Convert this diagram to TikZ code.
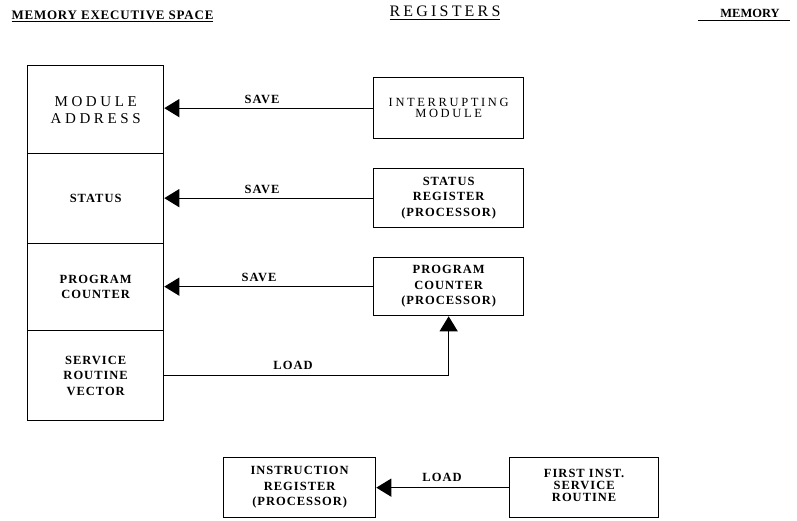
\documentclass[tikz,border=0pt]{standalone}
\usepackage{fontspec}
\setmainfont{Liberation Serif}
\newfontfamily\spA[LetterSpace=8]{Liberation Serif}
\newfontfamily\spB[LetterSpace=24]{Liberation Serif}
\newfontfamily\spC[LetterSpace=20]{Liberation Serif}
\newfontfamily\spD[LetterSpace=6]{Liberation Serif}
\newfontfamily\spE[LetterSpace=21]{Liberation Serif}
\usetikzlibrary{arrows.meta}
\begin{document}
\begin{tikzpicture}[x=1pt,y=-1pt,
  box/.style={draw,line width=1.3pt,rectangle,inner sep=0pt,align=center,anchor=north west},
  cell/.style={box,minimum width=136pt},
  rbox/.style={box,minimum width=150pt},
  btxt/.style={font=\fontsize{12.5}{15.5}\selectfont\bfseries\spA},
  lbl/.style={font=\fontsize{12.5}{14}\selectfont\bfseries\spA,inner sep=0pt},
  ttl/.style={inner sep=0pt,outer sep=0pt},
  uline/.style={line width=1.2pt},
  conn/.style={line width=1.2pt,-{Triangle[length=15pt,width=18pt]}}]
\useasboundingbox (0,0) rectangle (797,521);
% titles
\node[ttl,font=\fontsize{13}{15}\selectfont\bfseries\spD] (t1) at (112.5,15.5) {MEMORY EXECUTIVE SPACE};
\node[ttl,font=\fontsize{16}{18}\selectfont\spC] (t2) at (445,11) {REGISTERS};
\node[ttl,font=\fontsize{12.5}{14}\selectfont\bfseries] (t3) at (750,13) {MEMORY};
\draw[uline] ([yshift=-2pt]t1.south west) -- ([yshift=-2pt]t1.south east);
\draw[uline] ([yshift=-3pt]t2.south west) -- ([yshift=-3pt]t2.south east);
\draw[uline] ([xshift=-22pt,yshift=-3pt]t3.south west) -- ([xshift=10pt,yshift=-3pt]t3.south east);
% left column
\node[cell,minimum height=88pt,font=\fontsize{15}{17}\selectfont\spB] (c1) at (27,65) {MODULE\\ADDRESS};
\node[cell,minimum height=90pt,btxt] (c2) at (27,153) {STATUS};
\node[cell,minimum height=87pt,btxt] (c3) at (27,243) {PROGRAM\\COUNTER};
\node[cell,minimum height=90pt,btxt] (c4) at (27,330) {SERVICE\\ROUTINE\\VECTOR};
% register boxes
\node[rbox,minimum height=61pt,font=\fontsize{12.5}{11.5}\selectfont\spE] (im) at (373,77) {INTERRUPTING\\MODULE};
\node[rbox,minimum height=59pt,btxt] (sr) at (373,168) {STATUS\\REGISTER\\(PROCESSOR)};
\node[rbox,minimum height=58pt,btxt] (pc) at (373,257) {PROGRAM\\COUNTER\\(PROCESSOR)};
\node[box,minimum width=152pt,minimum height=60pt,btxt] (ir) at (223,457) {INSTRUCTION\\REGISTER\\(PROCESSOR)};
\node[box,minimum width=149pt,minimum height=60pt,font=\fontsize{12.5}{12}\selectfont\bfseries\spA] (fi) at (509,457) {FIRST INST.\\SERVICE\\ROUTINE\rule[-4pt]{0pt}{4pt}};
% connectors
\draw[conn] (im.west) -- (im.west -| c1.east);
\draw[conn] (sr.west) -- (sr.west -| c2.east);
\draw[conn] (pc.west) -- (pc.west -| c3.east);
\draw[conn] (c4.east) -| (pc.south);
\draw[conn] (fi.west) -- (ir.east);
% labels
\node[lbl] (s1) at (262,99) {SAVE};
\node[lbl] (s2) at (262,189) {SAVE};
\node[lbl] (s3) at (259,277) {SAVE};
\node[lbl] (l1) at (293,365) {LOAD};
\node[lbl] (l2) at (442,477) {LOAD};
\end{tikzpicture}
\end{document}
